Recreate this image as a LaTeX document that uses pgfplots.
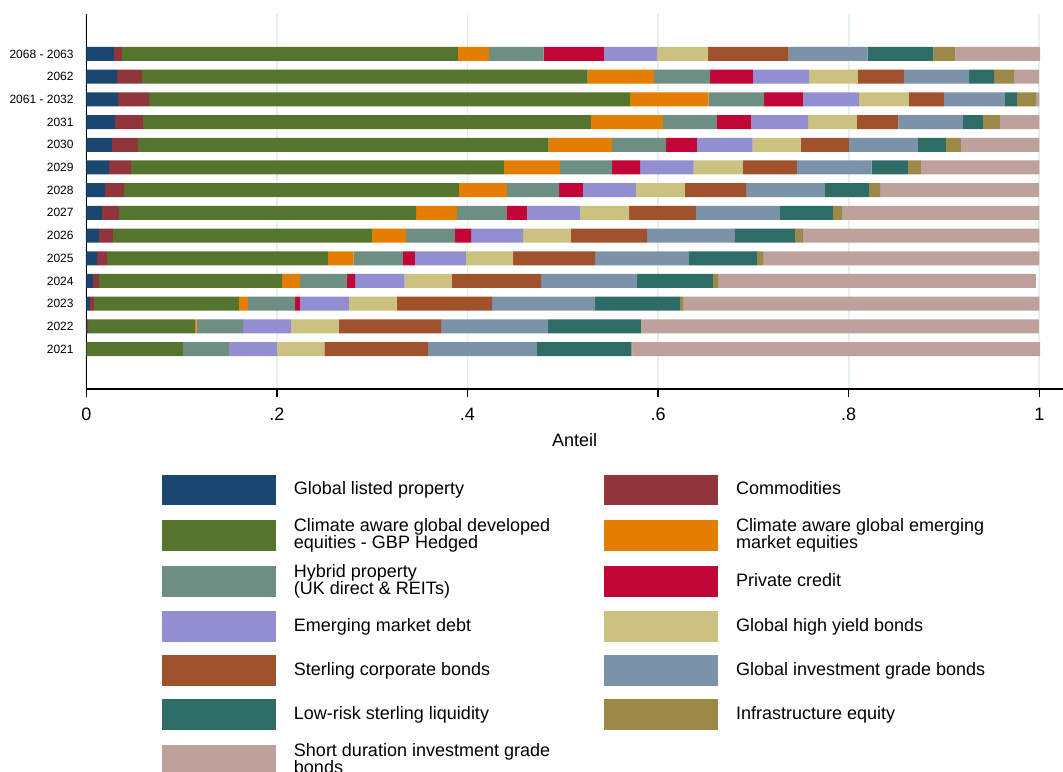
\documentclass[border=0pt]{standalone}
\usepackage{pgfplots}
\pgfplotsset{compat=1.18}
\usepackage{pgfplotstable}
\usepackage{fontspec}
\setmainfont{Liberation Sans}

% Stata s2color palette
\definecolor{cNavy}{RGB}{26,71,111}
\definecolor{cMaroon}{RGB}{144,53,59}
\definecolor{cForest}{RGB}{85,117,47}
\definecolor{cDkorange}{RGB}{227,126,0}
\definecolor{cTeal}{RGB}{110,142,132}
\definecolor{cCranberry}{RGB}{193,5,52}
\definecolor{cLavender}{RGB}{147,141,210}
\definecolor{cKhaki}{RGB}{202,194,126}
\definecolor{cSienna}{RGB}{160,82,45}
\definecolor{cEmidblue}{RGB}{123,146,168}
\definecolor{cEmerald}{RGB}{45,109,102}
\definecolor{cBrown}{RGB}{156,136,71}
\definecolor{cErose}{RGB}{191,161,156}
\definecolor{gridc}{RGB}{230,239,241}

% legend text: lines split by \cr, box centred on its baseline, fixed width
\newcommand\lgc[1]{\setbox0\vbox{\baselineskip=12.5pt\lineskiplimit=-\maxdimen
    \halign{##\hfil\cr#1\crcr}}%
  \hbox to 200pt{\raisebox{\dimexpr(\dp0-\ht0)/2+1pt\relax}{\box0}\hfil}}

% idx: 0 = 2021 ... 13 = 2068 - 2063
\pgfplotstableread{
idx GLP    COM    DEV    EM     HYB    PC     EMD    HY     SCB    IG     LIQ    INF    SD
0   0      0      0.1013 0      0.0484 0      0.0503 0.0499 0.1087 0.1143 0.0991 0.001  0.428
1   0.001  0.001  0.112  0.0018 0.0488 0      0.0502 0.0502 0.1074 0.1121 0.0974 0      0.4178
2   0.0038 0.0043 0.1521 0.0094 0.0495 0.0051 0.0513 0.0505 0.0998 0.1081 0.0891 0.0032 0.3738
3   0.007  0.0062 0.1922 0.0188 0.0495 0.0083 0.052  0.0495 0.0937 0.1007 0.0795 0.0055 0.3335
4   0.0114 0.0104 0.2317 0.0271 0.0516 0.0127 0.0535 0.0495 0.086  0.0985 0.0712 0.0065 0.2899
5   0.0132 0.0148 0.2717 0.0358 0.0513 0.017  0.0546 0.0501 0.0799 0.0923 0.0629 0.0083 0.2481
6   0.0164 0.0181 0.3115 0.043  0.0523 0.021  0.0556 0.0516 0.0701 0.0883 0.0556 0.0095 0.207
7   0.0197 0.0199 0.3514 0.0503 0.0549 0.025  0.0556 0.0512 0.0643 0.0828 0.0462 0.0116 0.1668
8   0.024  0.0228 0.3913 0.0588 0.0548 0.0294 0.0563 0.0516 0.0567 0.0785 0.0378 0.0138 0.1242
9   0.0269 0.0274 0.4309 0.0665 0.0567 0.0323 0.0585 0.0505 0.0505 0.0723 0.0294 0.0157 0.0824
10  0.0301 0.0293 0.4702 0.0755 0.0567 0.0356 0.060  0.0512 0.0436 0.0676 0.0211 0.0178 0.0413
11  0.0334 0.0325 0.5047 0.0825 0.0581 0.0407 0.0589 0.0523 0.0367 0.0643 0.0124 0.020  0.0035
12  0.0324 0.0259 0.4677 0.0697 0.0589 0.045  0.0588 0.0513 0.0483 0.0683 0.0262 0.021  0.0262
13  0.029  0.0084 0.3526 0.0326 0.0574 0.063  0.056  0.053  0.085  0.083  0.069  0.023  0.089
}\shares

\begin{document}
\begin{tikzpicture}
\path[use as bounding box] (-64.7pt,-286.9pt) rectangle (732.5pt,291.75pt);
\begin{axis}[
    at={(0pt,0pt)}, anchor=south west,
    scale only axis,
    width=732.5pt, height=281.25pt,
    xbar stacked, bar width=10.5pt,
    xmin=0, xmax=1.0249,
    ymin=-1.76, ymax=14.76,
    axis x line*=bottom, axis y line*=left,
    axis line style={line width=1.1pt, black},
    xtick={0,0.2,0.4,0.6,0.8,1},
    xticklabels={0,.2,.4,.6,.8,1},
    ytick={0,...,13},
    yticklabels={2021,2022,2023,2024,2025,2026,2027,2028,2029,2030,2031,2061 - 2032,2062,2068 - 2063},
    tick align=outside,
    major tick length=6pt,
    x tick style={line width=1pt, black},
    y tick style={draw=none},
    xmajorgrids,
    major grid style={draw=gridc, line width=1.3pt},
    /pgf/number format/assume math mode=true,
    x tick label style={font=\fontsize{13.5}{16}\selectfont, yshift=-4.5pt},
    y tick label style={font=\fontsize{9}{11}\selectfont},
    xlabel={Anteil},
    xlabel style={font=\fontsize{13.5}{16}\selectfont, yshift=-3pt},
    legend columns=2,
    legend cell align=left,
    legend image code/.code={\fill[#1] (0pt,-11.6pt) rectangle (85.5pt,11.6pt);},
    legend style={
        at={(axis description cs:0.0775,-0.228)}, anchor=north west,
        draw=none, fill=none, inner sep=0pt, outer sep=0pt,
        row sep=9.9pt,
        font=\fontsize{13.5}{12.5}\selectfont,
        nodes={inner sep=0pt},
        /tikz/every odd column/.append style={column sep=13.5pt},
        /tikz/every even column/.append style={column sep=32.5pt}},
]
\addplot[fill=cNavy, draw=none] table[x=GLP, y=idx] {\shares};
\addlegendentry{\lgc{Global listed property}}
\addplot[fill=cMaroon, draw=none] table[x=COM, y=idx] {\shares};
\addlegendentry{\lgc{Commodities}}
\addplot[fill=cForest, draw=none] table[x=DEV, y=idx] {\shares};
\addlegendentry{\lgc{Climate aware global developed\cr equities - GBP Hedged}}
\addplot[fill=cDkorange, draw=none] table[x=EM, y=idx] {\shares};
\addlegendentry{\lgc{Climate aware global emerging\cr market equities}}
\addplot[fill=cTeal, draw=none] table[x=HYB, y=idx] {\shares};
\addlegendentry{\lgc{Hybrid property\cr (UK direct \& REITs)}}
\addplot[fill=cCranberry, draw=none] table[x=PC, y=idx] {\shares};
\addlegendentry{\lgc{Private credit}}
\addplot[fill=cLavender, draw=none] table[x=EMD, y=idx] {\shares};
\addlegendentry{\lgc{Emerging market debt}}
\addplot[fill=cKhaki, draw=none] table[x=HY, y=idx] {\shares};
\addlegendentry{\lgc{Global high yield bonds}}
\addplot[fill=cSienna, draw=none] table[x=SCB, y=idx] {\shares};
\addlegendentry{\lgc{Sterling corporate bonds}}
\addplot[fill=cEmidblue, draw=none] table[x=IG, y=idx] {\shares};
\addlegendentry{\lgc{Global investment grade bonds}}
\addplot[fill=cEmerald, draw=none] table[x=LIQ, y=idx] {\shares};
\addlegendentry{\lgc{Low-risk sterling liquidity}}
\addplot[fill=cBrown, draw=none] table[x=INF, y=idx] {\shares};
\addlegendentry{\lgc{Infrastructure equity}}
\addplot[fill=cErose, draw=none] table[x=SD, y=idx] {\shares};
\addlegendentry{\lgc{Short duration investment grade\cr bonds}}
\end{axis}
\end{tikzpicture}
\end{document}
